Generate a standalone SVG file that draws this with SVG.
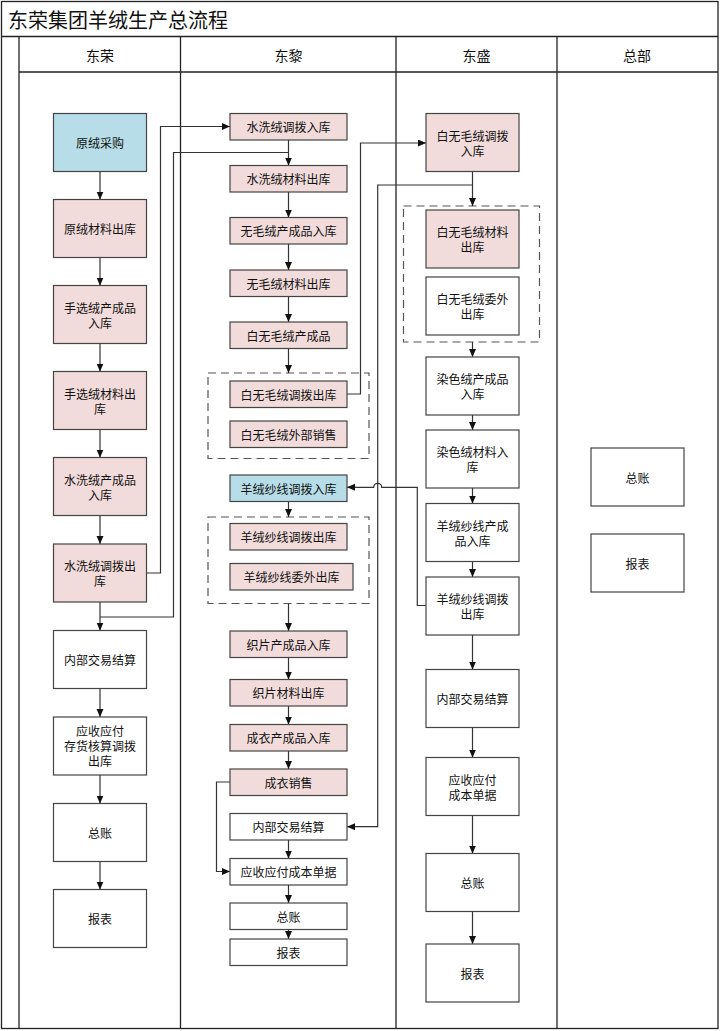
<svg xmlns="http://www.w3.org/2000/svg" width="720" height="1031" viewBox="0 0 720 1031">
<style>
.frame{fill:none;stroke:#222;stroke-width:1.3}
.n{stroke:#444;stroke-width:1.2}
.pk{fill:#f2dcdb}
.bl{fill:#b7dee8}
.wh{fill:#fff}
.grp{fill:none;stroke:#555;stroke-width:1.2;stroke-dasharray:8 5}
.t{font-family:"Noto Sans CJK SC","Liberation Sans",sans-serif;font-size:12px;fill:#111;text-anchor:middle;dominant-baseline:central}
.h{font-family:"Noto Sans CJK SC","Liberation Sans",sans-serif;font-size:14px;fill:#111;text-anchor:middle;dominant-baseline:central}
.title{font-family:"Noto Sans CJK SC","Liberation Sans",sans-serif;font-size:20px;fill:#111;dominant-baseline:central}
.c{fill:none;stroke:#333;stroke-width:1.2}
</style>
<defs>
<marker id="ar" markerWidth="8" markerHeight="8" refX="8" refY="3.5" orient="auto" markerUnits="userSpaceOnUse">
<path d="M0,0 L8,3.5 L0,7 z" fill="#111"/>
</marker>
</defs>
<rect width="720" height="1031" fill="#fff"/>
<g id="pool">
<rect class="frame" x="1.5" y="1.5" width="716.5" height="1027"/>
<line class="frame" x1="1.5" y1="36.5" x2="718" y2="36.5"/>
<line class="frame" x1="19" y1="72" x2="718" y2="72"/>
<line class="frame" x1="19" y1="36.5" x2="19" y2="1028.5"/>
<line class="frame" x1="180.5" y1="36.5" x2="180.5" y2="1028.5"/>
<line class="frame" x1="396" y1="36.5" x2="396" y2="1028.5"/>
<line class="frame" x1="557" y1="36.5" x2="557" y2="1028.5"/>
<text class="title" x="8" y="19">东荣集团羊绒生产总流程</text>
<text class="h" x="100" y="55">东荣</text>
<text class="h" x="288.5" y="55">东黎</text>
<text class="h" x="476.5" y="55">东盛</text>
<text class="h" x="637" y="55">总部</text>
</g>
<g id="groups">
<rect id="g1" class="grp" x="208" y="373" width="161" height="85.5"/>
<rect id="g2" class="grp" x="208" y="517" width="161" height="86.5"/>
<rect id="g3" class="grp" x="403.5" y="206" width="136" height="136"/>
</g>
<g id="connectors">
<line class="c" x1="100" y1="171.5" x2="100" y2="199.5" marker-end="url(#ar)"/>
<line class="c" x1="100" y1="257.5" x2="100" y2="285.5" marker-end="url(#ar)"/>
<line class="c" x1="100" y1="343.5" x2="100" y2="371.5" marker-end="url(#ar)"/>
<line class="c" x1="100" y1="429.5" x2="100" y2="457.5" marker-end="url(#ar)"/>
<line class="c" x1="100" y1="515.5" x2="100" y2="544" marker-end="url(#ar)"/>
<line class="c" x1="100" y1="602" x2="100" y2="630.5" marker-end="url(#ar)"/>
<line class="c" x1="100" y1="688.5" x2="100" y2="717" marker-end="url(#ar)"/>
<line class="c" x1="100" y1="775" x2="100" y2="803.5" marker-end="url(#ar)"/>
<line class="c" x1="100" y1="861.5" x2="100" y2="889.5" marker-end="url(#ar)"/>
<path class="c" d="M146.5,573 H160.5 V126.5 H230" marker-end="url(#ar)"/>
<path class="c" d="M288.5,152.5 H173.5 V617 H100"/>
<line class="c" x1="288.5" y1="140" x2="288.5" y2="165.5" marker-end="url(#ar)"/>
<line class="c" x1="288.5" y1="192" x2="288.5" y2="217.5" marker-end="url(#ar)"/>
<line class="c" x1="288.5" y1="244" x2="288.5" y2="270" marker-end="url(#ar)"/>
<line class="c" x1="288.5" y1="296.5" x2="288.5" y2="322" marker-end="url(#ar)"/>
<line class="c" x1="288.5" y1="348.5" x2="288.5" y2="373" marker-end="url(#ar)"/>
<line class="c" x1="288.5" y1="501.5" x2="288.5" y2="517" marker-end="url(#ar)"/>
<line class="c" x1="288.5" y1="603.5" x2="288.5" y2="631" marker-end="url(#ar)"/>
<line class="c" x1="288.5" y1="657.5" x2="288.5" y2="679.5" marker-end="url(#ar)"/>
<line class="c" x1="288.5" y1="706" x2="288.5" y2="724.5" marker-end="url(#ar)"/>
<line class="c" x1="288.5" y1="751" x2="288.5" y2="769" marker-end="url(#ar)"/>
<line class="c" x1="288.5" y1="840" x2="288.5" y2="858.5" marker-end="url(#ar)"/>
<line class="c" x1="288.5" y1="885" x2="288.5" y2="903" marker-end="url(#ar)"/>
<line class="c" x1="288.5" y1="929.5" x2="288.5" y2="939" marker-end="url(#ar)"/>
<path class="c" d="M347,394 H360.5 V143 H426" marker-end="url(#ar)"/>
<path class="c" d="M472.5,185 H377.7 V826.7 H347" marker-end="url(#ar)"/>
<path class="c" d="M230,782 H216.5 V871.5 H230" marker-end="url(#ar)"/>
<path class="c" d="M426,605.5 H417.3 V487.3 H381.7 A4,4 0 0 0 373.7,487.3 H347" marker-end="url(#ar)"/>
<line class="c" x1="472.5" y1="171.5" x2="472.5" y2="206" marker-end="url(#ar)"/>
<line class="c" x1="472.5" y1="342" x2="472.5" y2="357" marker-end="url(#ar)"/>
<line class="c" x1="472.5" y1="415" x2="472.5" y2="430" marker-end="url(#ar)"/>
<line class="c" x1="472.5" y1="488" x2="472.5" y2="503.5" marker-end="url(#ar)"/>
<line class="c" x1="472.5" y1="561.5" x2="472.5" y2="577" marker-end="url(#ar)"/>
<line class="c" x1="472.5" y1="635" x2="472.5" y2="669.5" marker-end="url(#ar)"/>
<line class="c" x1="472.5" y1="727.5" x2="472.5" y2="757.5" marker-end="url(#ar)"/>
<line class="c" x1="472.5" y1="815.5" x2="472.5" y2="853.5" marker-end="url(#ar)"/>
<line class="c" x1="472.5" y1="911.5" x2="472.5" y2="944" marker-end="url(#ar)"/>
</g>
<g id="L1"><rect class="n bl" x="53.5" y="113.5" width="93" height="58"/><text class="t" x="100" y="142.5">原绒采购</text></g>
<g id="L2"><rect class="n pk" x="53.5" y="199.5" width="93" height="58"/><text class="t" x="100" y="228.5">原绒材料出库</text></g>
<g id="L3"><rect class="n pk" x="53.5" y="285.5" width="93" height="58"/><text class="t" x="100" y="307">手选绒产成品</text><text class="t" x="100" y="322">入库</text></g>
<g id="L4"><rect class="n pk" x="53.5" y="371.5" width="93" height="58"/><text class="t" x="100" y="393">手选绒材料出</text><text class="t" x="100" y="408">库</text></g>
<g id="L5"><rect class="n pk" x="53.5" y="457.5" width="93" height="58"/><text class="t" x="100" y="479">水洗绒产成品</text><text class="t" x="100" y="494">入库</text></g>
<g id="L6"><rect class="n pk" x="53.5" y="544" width="93" height="58"/><text class="t" x="100" y="565.5">水洗绒调拨出</text><text class="t" x="100" y="580.5">库</text></g>
<g id="L7"><rect class="n wh" x="53.5" y="630.5" width="93" height="58"/><text class="t" x="100" y="659.5">内部交易结算</text></g>
<g id="L8"><rect class="n wh" x="53.5" y="717" width="93" height="58"/><text class="t" x="100" y="730.5">应收应付</text><text class="t" x="100" y="745.5">存货核算调拨</text><text class="t" x="100" y="760.5">出库</text></g>
<g id="L9"><rect class="n wh" x="53.5" y="803.5" width="93" height="58"/><text class="t" x="100" y="832.5">总账</text></g>
<g id="L10"><rect class="n wh" x="53.5" y="889.5" width="93" height="58"/><text class="t" x="100" y="918.5">报表</text></g>
<g id="M1"><rect class="n pk" x="230" y="113.5" width="117" height="26.5"/><text class="t" x="288.5" y="126.5">水洗绒调拨入库</text></g>
<g id="M2"><rect class="n pk" x="230" y="165.5" width="117" height="26.5"/><text class="t" x="288.5" y="178.5">水洗绒材料出库</text></g>
<g id="M3"><rect class="n pk" x="230" y="217.5" width="117" height="26.5"/><text class="t" x="288.5" y="230.5">无毛绒产成品入库</text></g>
<g id="M4"><rect class="n pk" x="230" y="270" width="117" height="26.5"/><text class="t" x="288.5" y="283">无毛绒材料出库</text></g>
<g id="M5"><rect class="n pk" x="230" y="322" width="117" height="26.5"/><text class="t" x="288.5" y="335">白无毛绒产成品</text></g>
<g id="M6"><rect class="n pk" x="230" y="381" width="117" height="26.5"/><text class="t" x="288.5" y="394">白无毛绒调拨出库</text></g>
<g id="M7"><rect class="n pk" x="230" y="421" width="117" height="26.5"/><text class="t" x="288.5" y="434">白无毛绒外部销售</text></g>
<g id="M8"><rect class="n bl" x="230" y="475" width="117" height="26.5"/><text class="t" x="288.5" y="488">羊绒纱线调拨入库</text></g>
<g id="M9"><rect class="n pk" x="230" y="523.5" width="117" height="26.5"/><text class="t" x="288.5" y="536.5">羊绒纱线调拨出库</text></g>
<g id="M10"><rect class="n pk" x="230" y="563.5" width="123" height="26.5"/><text class="t" x="291.5" y="576.5">羊绒纱线委外出库</text></g>
<g id="M11"><rect class="n pk" x="230" y="631" width="117" height="26.5"/><text class="t" x="288.5" y="644">织片产成品入库</text></g>
<g id="M12"><rect class="n pk" x="230" y="679.5" width="117" height="26.5"/><text class="t" x="288.5" y="692.5">织片材料出库</text></g>
<g id="M13"><rect class="n pk" x="230" y="724.5" width="117" height="26.5"/><text class="t" x="288.5" y="737.5">成衣产成品入库</text></g>
<g id="M14"><rect class="n pk" x="230" y="769" width="117" height="26.5"/><text class="t" x="288.5" y="782">成衣销售</text></g>
<g id="M15"><rect class="n wh" x="230" y="813.5" width="117" height="26.5"/><text class="t" x="288.5" y="826.5">内部交易结算</text></g>
<g id="M16"><rect class="n wh" x="230" y="858.5" width="117" height="26.5"/><text class="t" x="288.5" y="871.5">应收应付成本单据</text></g>
<g id="M17"><rect class="n wh" x="230" y="903" width="117" height="26.5"/><text class="t" x="288.5" y="916">总账</text></g>
<g id="M18"><rect class="n wh" x="230" y="939" width="117" height="26.5"/><text class="t" x="288.5" y="952">报表</text></g>
<g id="R1"><rect class="n pk" x="426" y="113.5" width="93" height="58"/><text class="t" x="472.5" y="135">白无毛绒调拨</text><text class="t" x="472.5" y="150">入库</text></g>
<g id="R2"><rect class="n pk" x="426" y="210" width="93" height="58"/><text class="t" x="472.5" y="231.5">白无毛绒材料</text><text class="t" x="472.5" y="246.5">出库</text></g>
<g id="R3"><rect class="n wh" x="426" y="277" width="93" height="58"/><text class="t" x="472.5" y="298.5">白无毛绒委外</text><text class="t" x="472.5" y="313.5">出库</text></g>
<g id="R4"><rect class="n wh" x="426" y="357" width="93" height="58"/><text class="t" x="472.5" y="378.5">染色绒产成品</text><text class="t" x="472.5" y="393.5">入库</text></g>
<g id="R5"><rect class="n wh" x="426" y="430" width="93" height="58"/><text class="t" x="472.5" y="451.5">染色绒材料入</text><text class="t" x="472.5" y="466.5">库</text></g>
<g id="R6"><rect class="n wh" x="426" y="503.5" width="93" height="58"/><text class="t" x="472.5" y="525">羊绒纱线产成</text><text class="t" x="472.5" y="540">品入库</text></g>
<g id="R7"><rect class="n wh" x="426" y="577" width="93" height="58"/><text class="t" x="472.5" y="598.5">羊绒纱线调拨</text><text class="t" x="472.5" y="613.5">出库</text></g>
<g id="R8"><rect class="n wh" x="426" y="669.5" width="93" height="58"/><text class="t" x="472.5" y="698.5">内部交易结算</text></g>
<g id="R9"><rect class="n wh" x="426" y="757.5" width="93" height="58"/><text class="t" x="472.5" y="779">应收应付</text><text class="t" x="472.5" y="794">成本单据</text></g>
<g id="R10"><rect class="n wh" x="426" y="853.5" width="93" height="58"/><text class="t" x="472.5" y="882.5">总账</text></g>
<g id="R11"><rect class="n wh" x="426" y="944" width="93" height="58"/><text class="t" x="472.5" y="973">报表</text></g>
<g id="H1"><rect class="n wh" x="591" y="448" width="93" height="58"/><text class="t" x="637.5" y="477">总账</text></g>
<g id="H2"><rect class="n wh" x="591" y="534" width="93" height="58"/><text class="t" x="637.5" y="563">报表</text></g>
</svg>
